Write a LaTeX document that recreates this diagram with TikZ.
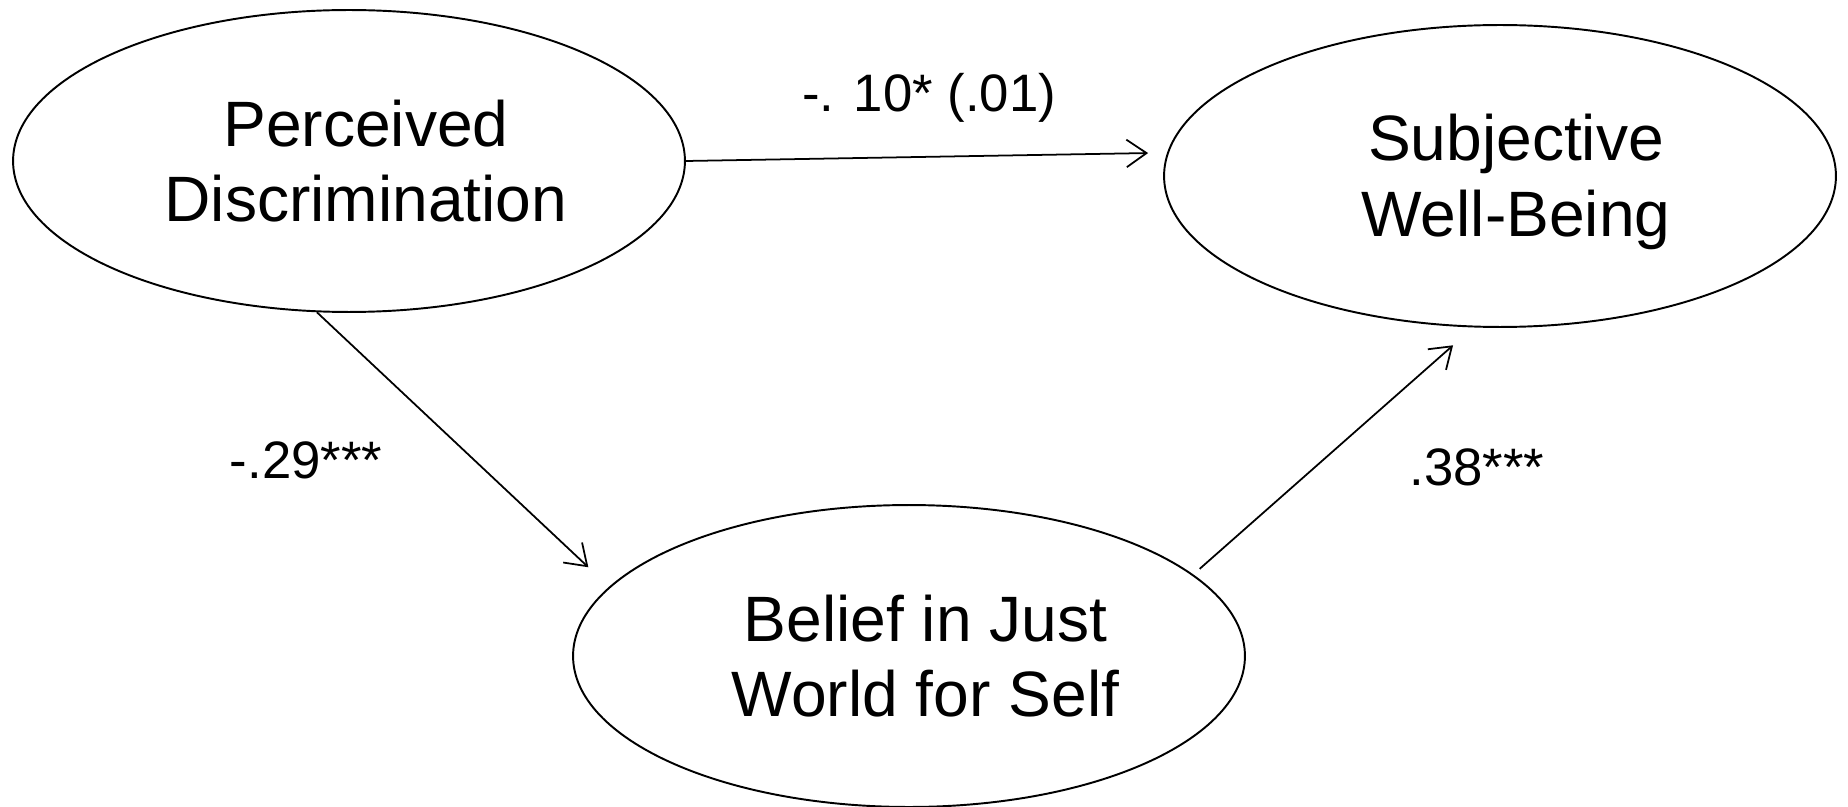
\documentclass[tikz,border=0pt]{standalone}
\usepackage{fontspec}
\setmainfont{Liberation Sans}
\usetikzlibrary{arrows.meta, shapes.geometric}
\tikzset{
  latent/.style={
    draw, ellipse,
    line width=1.1pt,          % outline of the ellipses
    minimum width=13.44cm,
    minimum height=6.04cm,
    inner sep=0pt
  }
}
\tikzset{
  latent text/.style={align=center, inner sep=0pt, font=\fontsize{36.5}{43}\selectfont}
}
\tikzset{
  path arrow/.style={
    -{Straight Barb[length=0.4cm, width=0.55cm]}, % open arrow tip
    line width=1pt
  }
}
\tikzset{
  coef/.style={anchor=base, font=\fontsize{30}{36}\selectfont}
}

\begin{document}
\begin{tikzpicture}[x=0.02cm, y=-0.02cm]
    % Canvas
    \useasboundingbox (0,0) rectangle (1848,807);

    % Latent variables
    \node[latent] (pd)  at (349,161)  {};
    \node[latent] (swb) at (1500,176) {};
    \node[latent] (bjw) at (909,656)  {};

    % Names, set a little right of the centres
    \node[latent text] (pdtext)  at ([xshift=0.34cm]pd.center)  {Perceived\\Discrimination};
    \node[latent text] (swbtext) at ([xshift=0.32cm, yshift=-0.12cm]swb.center) {Subjective\\Well-Being};
    \node[latent text] (bjwtext) at ([xshift=0.33cm]bjw.center) {Belief in Just\\World for Self};

    % Paths between the variables
    \draw[path arrow, shorten >=0.38cm] (pd.east) -- (swb.176);
    \draw[path arrow, shorten >=0.57cm] (pd.258) -- (bjw.167);
    \draw[path arrow, shorten <=0.17cm, shorten >=0.54cm] (bjw.16) -- (swb.260);

    % Path coefficients
    \node[coef] (cdirect) at (929,112)  {-. 10* (.01)};
    \node[coef] (ca)      at (306,478)  {-.29***};
    \node[coef] (cb)      at (1477,485) {.38***};
\end{tikzpicture}
\end{document}
